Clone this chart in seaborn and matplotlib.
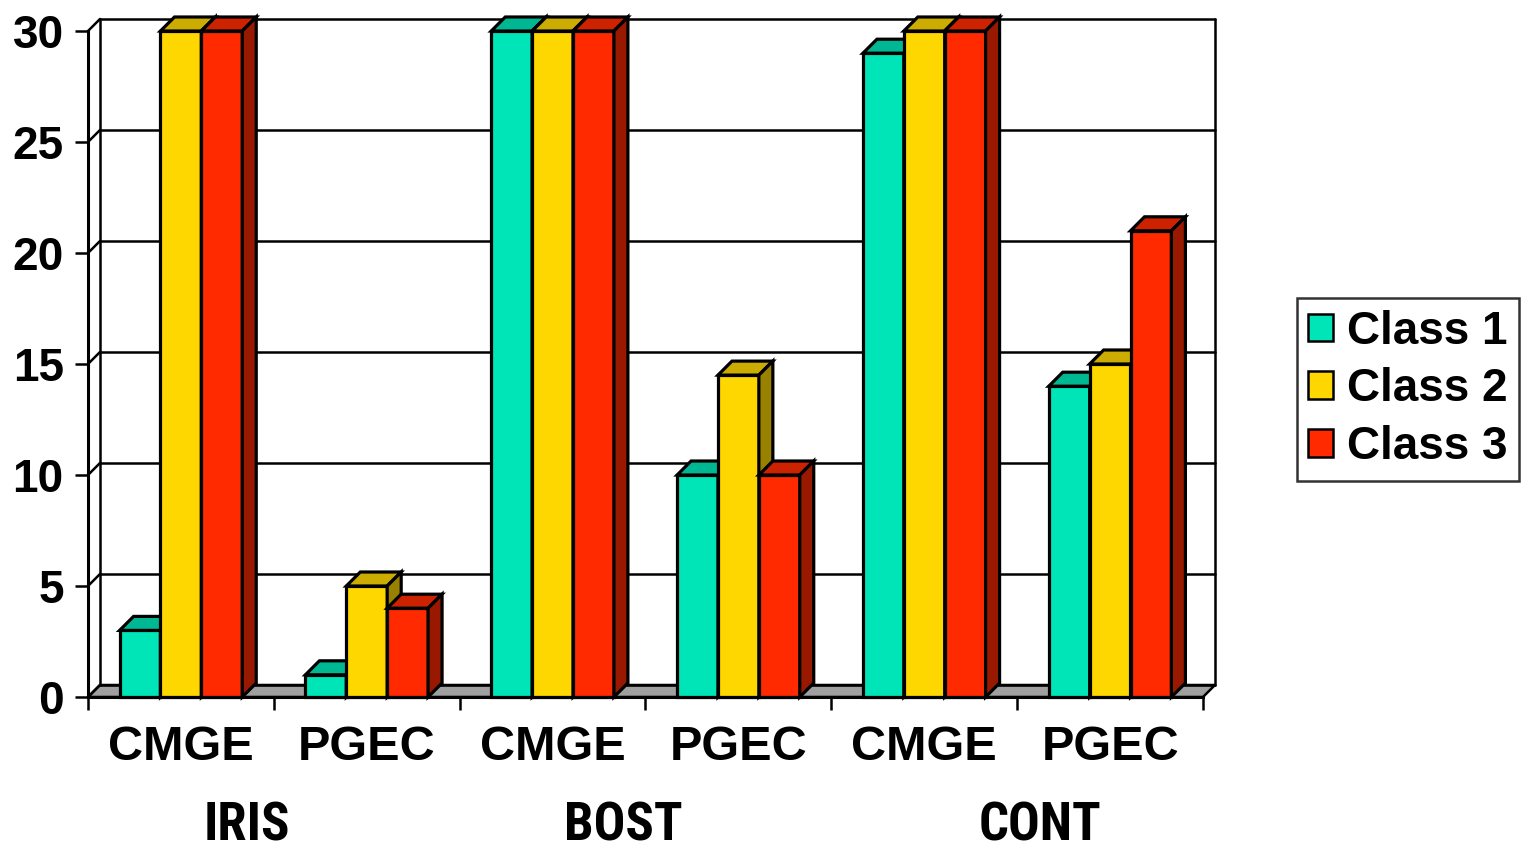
import matplotlib
matplotlib.use("Agg")
import matplotlib.pyplot as plt
from matplotlib.patches import Polygon, Patch
import numpy as np
import pandas as pd
import seaborn as sns

# ---- data ----
datasets = ["IRIS", "BOST", "CONT"]
methods = ["CMGE", "PGEC"]
classes = ["Class 1", "Class 2", "Class 3"]
class1 = [3, 1, 30, 10, 29, 14]
class2 = [30, 5, 30, 14.5, 30, 15]
class3 = [30, 4, 30, 10, 30, 21]
yticks = [0, 5, 10, 15, 20, 25, 30]

front_colors = ["#00E5B8", "#FFD700", "#FF2A00"]

categories = [f"{d} {m}" for d in datasets for m in methods]
df = pd.DataFrame({
    "cat": categories * 3,
    "value": class1 + class2 + class3,
    "cls": [c for c in classes for _ in categories],
})

sns.set_style("white")
plt.rcParams["font.family"] = ["Liberation Sans", "DejaVu Sans"]
plt.rcParams["font.weight"] = "bold"
plt.rcParams["text.color"] = "black"
plt.rcParams["xtick.color"] = "black"
plt.rcParams["ytick.color"] = "black"

W, H = 1532, 849
fig = plt.figure(figsize=(W / 100, H / 100), dpi=100)
ax = fig.add_axes([88 / W, 1 - 697 / H, 1115 / W, 666 / H])

sns.barplot(data=df, x="cat", y="value", hue="cls", order=categories,
            hue_order=classes, palette=front_colors, width=0.66,
            edgecolor="black", linewidth=2.3, saturation=1, ax=ax,
            legend=False)

ax.set_xlim(-0.5, 5.5)
ax.set_ylim(0, 30)

# depth offset of the 3-D look, expressed in data units
px_x = 6 / 1115.0
px_y = 30 / 666.0
WDX, WDY = 12 * px_x, 12 * px_y       # walls / floor
BDX, BDY = 14 * px_x, 14 * px_y       # bar depth


def shade(hexcol, f):
    c = np.array(matplotlib.colors.to_rgb(hexcol)) * f
    return tuple(c)


line_kw = dict(color="black", lw=1.8, clip_on=False)

# floor
x0, x1 = -0.5, 5.5
floor = Polygon([(x0, 0), (x1, 0), (x1 + WDX, WDY), (x0 + WDX, WDY)],
                closed=True, facecolor="#A0A0A0", edgecolor="black",
                lw=1.8, clip_on=False, zorder=0.5)
ax.add_patch(floor)

# back wall gridlines and side-wall connectors
for t in yticks:
    ax.plot([x0 + WDX, x1 + WDX], [t + WDY, t + WDY], zorder=0.6, **line_kw)
    ax.plot([x0, x0 + WDX], [t, t + WDY], zorder=0.6, **line_kw)
ax.plot([x0 + WDX, x0 + WDX], [WDY, 30 + WDY], zorder=0.6, **line_kw)
ax.plot([x1 + WDX, x1 + WDX], [WDY, 30 + WDY], zorder=0.6, **line_kw)

# top and side faces for each bar, painted left to right
bars = []
for ci, cont in enumerate(ax.containers):
    for rect in cont:
        bars.append((rect.get_x(), ci, rect))
bars.sort(key=lambda b: b[0])

for i, (_, ci, rect) in enumerate(bars):
    bx, bw, bh = rect.get_x(), rect.get_width(), rect.get_height()
    base = 2 + i * 0.03
    rect.set_zorder(base)
    top = Polygon([(bx, bh), (bx + bw, bh), (bx + bw + BDX, bh + BDY),
                   (bx + BDX, bh + BDY)], closed=True,
                  facecolor=shade(front_colors[ci], 0.8), edgecolor="black",
                  lw=2.3, joinstyle="miter", clip_on=False, zorder=base + 0.01)
    side = Polygon([(bx + bw, 0), (bx + bw + BDX, BDY),
                    (bx + bw + BDX, bh + BDY), (bx + bw, bh)], closed=True,
                   facecolor=shade(front_colors[ci], 0.6), edgecolor="black",
                   lw=2.3, joinstyle="miter", clip_on=False, zorder=base + 0.02)
    ax.add_patch(top)
    ax.add_patch(side)
    rect.set_clip_on(False)
    rect.set_joinstyle("miter")

# front axis lines
for s in ["top", "right"]:
    ax.spines[s].set_visible(False)
for s in ["left", "bottom"]:
    ax.spines[s].set_visible(True)
    ax.spines[s].set_linewidth(2.2)
    ax.spines[s].set_color("black")
    ax.spines[s].set_zorder(5)
ax.patch.set_alpha(0)

ax.set_yticks(yticks)
ax.set_yticklabels([str(t) for t in yticks])
ax.tick_params(axis="y", direction="out", length=9.5, width=1.8,
               pad=8, labelsize=33, left=True, color="black",
               labelcolor="black")

ax.set_xticks(range(len(categories)))
ax.set_xticklabels([m for _ in datasets for m in methods])
ax.set_xticks(np.arange(-0.5, 6.0, 1.0), minor=True)
ax.tick_params(axis="x", which="major", length=0, pad=20, labelsize=35,
               labelcolor="black")
ax.tick_params(axis="x", which="minor", direction="out", length=9.5,
               width=1.8, bottom=True, color="black")
for lab in ax.get_xticklabels() + ax.get_yticklabels():
    lab.set_fontweight("bold")
ax.set_xlabel("")
ax.set_ylabel("")

# dataset labels under the method labels
for name, px in zip(datasets, [247, 623, 1040]):
    fig.text(px / W, 1 - 826 / H, name, ha="center", va="center",
             fontsize=38, fontweight="bold", color="black",
             family=["Liberation Sans Narrow", "Roboto Condensed",
                     "Archivo Narrow"])

handles = [Patch(facecolor=c, edgecolor="black", lw=1.8) for c in front_colors]
leg = fig.legend(handles, classes, loc="center",
                 bbox_to_anchor=(1408 / W, 1 - 389.5 / H),
                 prop={"size": 33, "weight": "bold"}, frameon=True,
                 fancybox=False, handlelength=0.55, handleheight=0.55,
                 handletextpad=0.3, labelspacing=0.3, borderpad=0.25,
                 borderaxespad=0)
leg.get_frame().set_edgecolor("black")
leg.get_frame().set_linewidth(1.8)
for t in leg.get_texts():
    t.set_color("black")

fig.savefig("out.png", dpi=100)
